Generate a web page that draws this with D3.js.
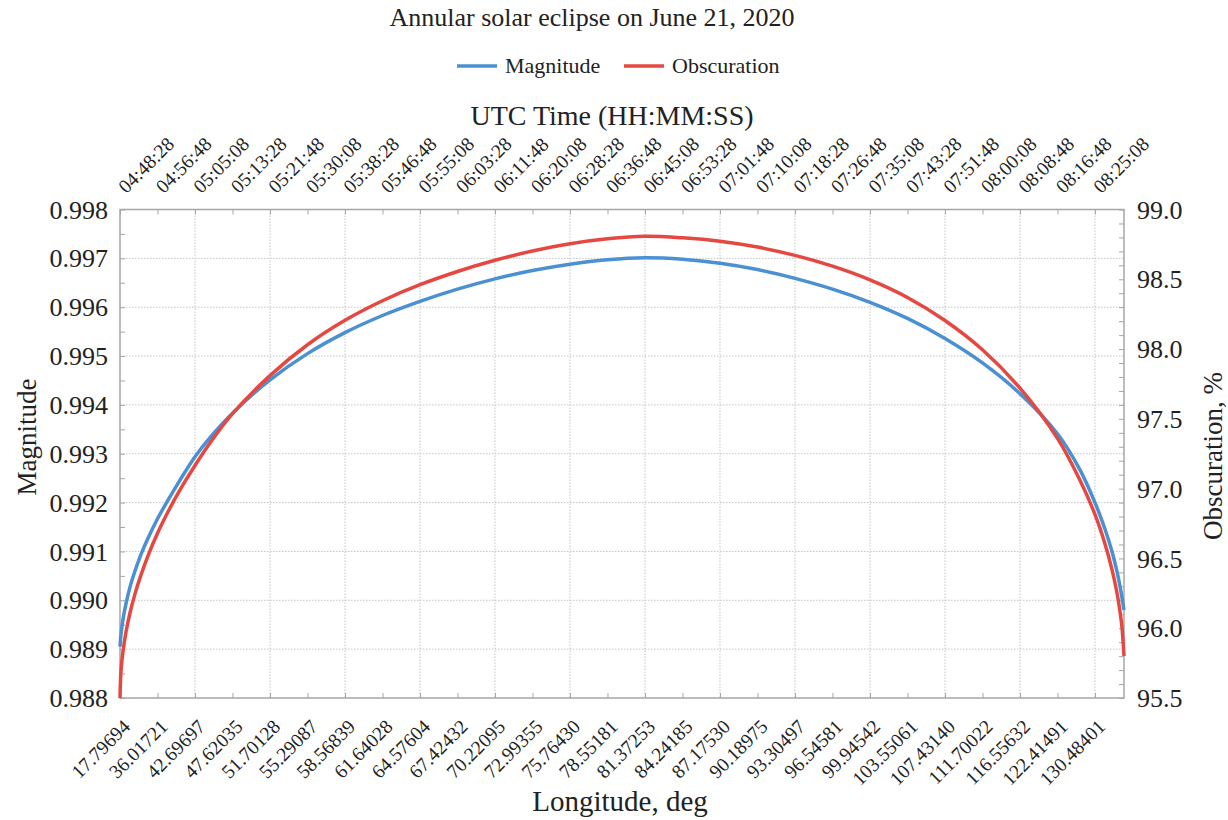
<!DOCTYPE html>
<html>
<head>
<meta charset="utf-8">
<script src="https://cdn.jsdelivr.net/npm/d3@7"></script>
<style>
  body { margin: 0; background: #fff; }
  text { font-family: "Liberation Serif", "Times New Roman", serif; fill: #222; }
</style>
</head>
<body>
<svg id="chart" width="1228" height="820"></svg>
<script>
// top axis labels (UTC time), one per tick
const timeLabels = ["04:48:28", "04:56:48", "05:05:08", "05:13:28", "05:21:48", "05:30:08", "05:38:28",
  "05:46:48", "05:55:08", "06:03:28", "06:11:48", "06:20:08", "06:28:28", "06:36:48", "06:45:08",
  "06:53:28", "07:01:48", "07:10:08", "07:18:28", "07:26:48", "07:35:08", "07:43:28", "07:51:48",
  "08:00:08", "08:08:48", "08:16:48", "08:25:08"];
// bottom axis labels (longitude), same ticks
const lonLabels = ["17.79694", "36.01721", "42.69697", "47.62035", "51.70128", "55.29087", "58.56839",
  "61.64028", "64.57604", "67.42432", "70.22095", "72.99355", "75.76430", "78.55181", "81.37253",
  "84.24185", "87.17530", "90.18975", "93.30497", "96.54581", "99.94542", "103.55061", "107.43140",
  "111.70022", "116.55632", "122.41491", "130.48401"];
const tickStepSec = 500;
const timeStart = "04:48:28";
const timeEnd = "08:31:35";

// sampled curves (denser near the ends where they get steep)
const sampleTimes = ["04:48:28", "04:48:41", "04:49:08", "04:49:48", "04:50:41", "04:51:48", "04:53:08",
  "04:54:41", "04:56:48", "04:59:08", "05:01:48", "05:05:08", "05:08:28", "05:13:28", "05:21:48",
  "05:30:08", "05:38:28", "05:46:48", "05:55:08", "06:03:28", "06:11:48", "06:20:08", "06:28:28",
  "06:36:48", "06:45:08", "06:53:28", "07:01:48", "07:10:08", "07:18:28", "07:26:48", "07:35:08",
  "07:43:28", "07:51:48", "08:00:08", "08:08:28", "08:16:48", "08:21:48", "08:25:08", "08:27:21",
  "08:28:55", "08:30:01", "08:30:41", "08:31:08", "08:31:35"];
const magnitude = [0.98905, 0.98930, 0.98961, 0.98993, 0.99027, 0.99060, 0.99094,
  0.99127, 0.99167, 0.99205, 0.99246, 0.99294, 0.99333, 0.99383, 0.99451,
  0.99505, 0.99548, 0.99583, 0.99612, 0.99637, 0.99658, 0.99675, 0.99688,
  0.99697, 0.99701, 0.99698, 0.99690, 0.99677, 0.99659, 0.99637, 0.99610,
  0.99577, 0.99536, 0.99486, 0.99423, 0.99341, 0.99267, 0.99200, 0.99146,
  0.99100, 0.99059, 0.99029, 0.99006, 0.98980];
const obscuration = [95.500, 95.693, 95.833, 95.973, 96.109, 96.246, 96.382,
  96.519, 96.680, 96.834, 96.991, 97.166, 97.327, 97.537, 97.810,
  98.031, 98.206, 98.346, 98.461, 98.556, 98.636, 98.703, 98.755,
  98.790, 98.808, 98.797, 98.773, 98.731, 98.671, 98.594, 98.496,
  98.370, 98.205, 97.995, 97.720, 97.360, 97.060, 96.815, 96.605,
  96.420, 96.254, 96.122, 96.008, 95.801];

const magDomain = [0.988, 0.998];
const obsDomain = [95.5, 99.0];
const blue = "#4a90d2";
const red = "#e44841";

const parse = d3.timeParse("%H:%M:%S");
const svg = d3.select("#chart");
const plotLeft = 120, plotRight = 1124, plotTop = 209.5, plotBottom = 698;

const x = d3.scaleTime().domain([parse(timeStart), parse(timeEnd)]).range([plotLeft, plotRight]);
const yL = d3.scaleLinear().domain(magDomain).range([plotBottom, plotTop]);
const yR = d3.scaleLinear().domain(obsDomain).range([plotBottom, plotTop]);

const t0 = parse(timeStart).getTime();
const tickDates = timeLabels.map((_, i) => new Date(t0 + i * tickStepSec * 1000));

// grid
const grid = svg.append("g").attr("stroke", "#c4c4c4").attr("stroke-dasharray", "1.5,1.5").attr("stroke-width", 1);
grid.selectAll(".gx").data(tickDates.filter((d, i) => i % 2 === 0 && i > 0)).join("line")
  .attr("x1", d => x(d)).attr("x2", d => x(d)).attr("y1", plotTop).attr("y2", plotBottom);
grid.selectAll(".gy").data(yL.ticks(10).slice(1, -1)).join("line")
  .attr("x1", plotLeft).attr("x2", plotRight).attr("y1", d => yL(d)).attr("y2", d => yL(d));

// frame
svg.append("rect").attr("x", plotLeft).attr("y", plotTop)
  .attr("width", plotRight - plotLeft).attr("height", plotBottom - plotTop)
  .attr("fill", "none").attr("stroke", "#a6a6a6").attr("stroke-width", 1.5);

function styleAxis(g) {
  g.select(".domain").remove();
  g.selectAll(".tick line").attr("stroke", "#a6a6a6").attr("stroke-width", 1);
}

// bottom axis: longitude
const xb = svg.append("g").attr("transform", `translate(0,${plotBottom})`)
  .call(d3.axisBottom(x).tickValues(tickDates).tickSize(-5).tickFormat((d, i) => lonLabels[i]));
styleAxis(xb);
xb.selectAll("text").attr("x", 0).attr("y", 0).attr("dy", "0.35em")
  .attr("text-anchor", "end").attr("font-size", 19.5).attr("fill", "#222")
  .attr("font-family", "Liberation Serif")
  .attr("transform", "translate(6,25) rotate(-45)");

// top axis: time
const xt = svg.append("g").attr("transform", `translate(0,${plotTop})`)
  .call(d3.axisTop(x).tickValues(tickDates).tickSize(-5).tickFormat((d, i) => timeLabels[i]));
styleAxis(xt);
xt.selectAll("text").attr("x", 0).attr("y", 0).attr("dy", "0.35em")
  .attr("text-anchor", "start").attr("font-size", 19.5).attr("fill", "#222")
  .attr("font-family", "Liberation Serif")
  .attr("transform", "translate(1,-20) rotate(-45)");

// left axis: magnitude
const yl = svg.append("g").attr("transform", `translate(${plotLeft},0)`)
  .call(d3.axisLeft(yL).ticks(20).tickSize(-5).tickFormat(""));
styleAxis(yl);
svg.append("g").selectAll("text").data(yL.ticks(10)).join("text")
  .attr("x", 108).attr("y", d => yL(d)).attr("dy", "0.35em").attr("text-anchor", "end")
  .attr("font-size", 26).text(d3.format(".3f"));

// right axis: obscuration
const yr = svg.append("g").attr("transform", `translate(${plotRight},0)`)
  .call(d3.axisRight(yR).ticks(35).tickSize(-5).tickFormat(""));
styleAxis(yr);
svg.append("g").selectAll("text").data(yR.ticks(7)).join("text")
  .attr("x", 1137).attr("y", d => yR(d)).attr("dy", "0.35em").attr("text-anchor", "start")
  .attr("font-size", 26).text(d3.format(".1f"));

// curves
const pts = sampleTimes.map((t, i) => ({ t: parse(t), m: magnitude[i], o: obscuration[i] }));
const smooth = d3.curveCatmullRom.alpha(0.5);
svg.append("path").datum(pts)
  .attr("fill", "none").attr("stroke", blue).attr("stroke-width", 3.5)
  .attr("d", d3.line().x(d => x(d.t)).y(d => yL(d.m)).curve(smooth));
svg.append("path").datum(pts)
  .attr("fill", "none").attr("stroke", red).attr("stroke-width", 3.5)
  .attr("d", d3.line().x(d => x(d.t)).y(d => yR(d.o)).curve(smooth));

// titles
svg.append("text").attr("x", 592).attr("y", 26).attr("text-anchor", "middle").attr("font-size", 26)
  .text("Annular solar eclipse on June 21, 2020");
svg.append("text").attr("x", 612).attr("y", 125).attr("text-anchor", "middle").attr("font-size", 28)
  .text("UTC Time (HH:MM:SS)");
svg.append("text").attr("x", 620).attr("y", 811).attr("text-anchor", "middle").attr("font-size", 29)
  .text("Longitude, deg");
svg.append("text").attr("transform", "translate(36,437) rotate(-90)").attr("text-anchor", "middle")
  .attr("font-size", 27).text("Magnitude");
svg.append("text").attr("transform", "translate(1222,456) rotate(-90)").attr("text-anchor", "middle")
  .attr("font-size", 27).text("Obscuration, %");

// legend
const legend = [{ name: "Magnitude", color: blue, x: 457 }, { name: "Obscuration", color: red, x: 624 }];
const lg = svg.append("g").selectAll("g").data(legend).join("g")
  .attr("transform", d => `translate(${d.x},66)`);
lg.append("line").attr("x1", 0).attr("x2", 40).attr("stroke", d => d.color).attr("stroke-width", 3.5);
lg.append("text").attr("x", 48).attr("dy", "0.33em").attr("font-size", 22).text(d => d.name);
</script>
</body>
</html>
